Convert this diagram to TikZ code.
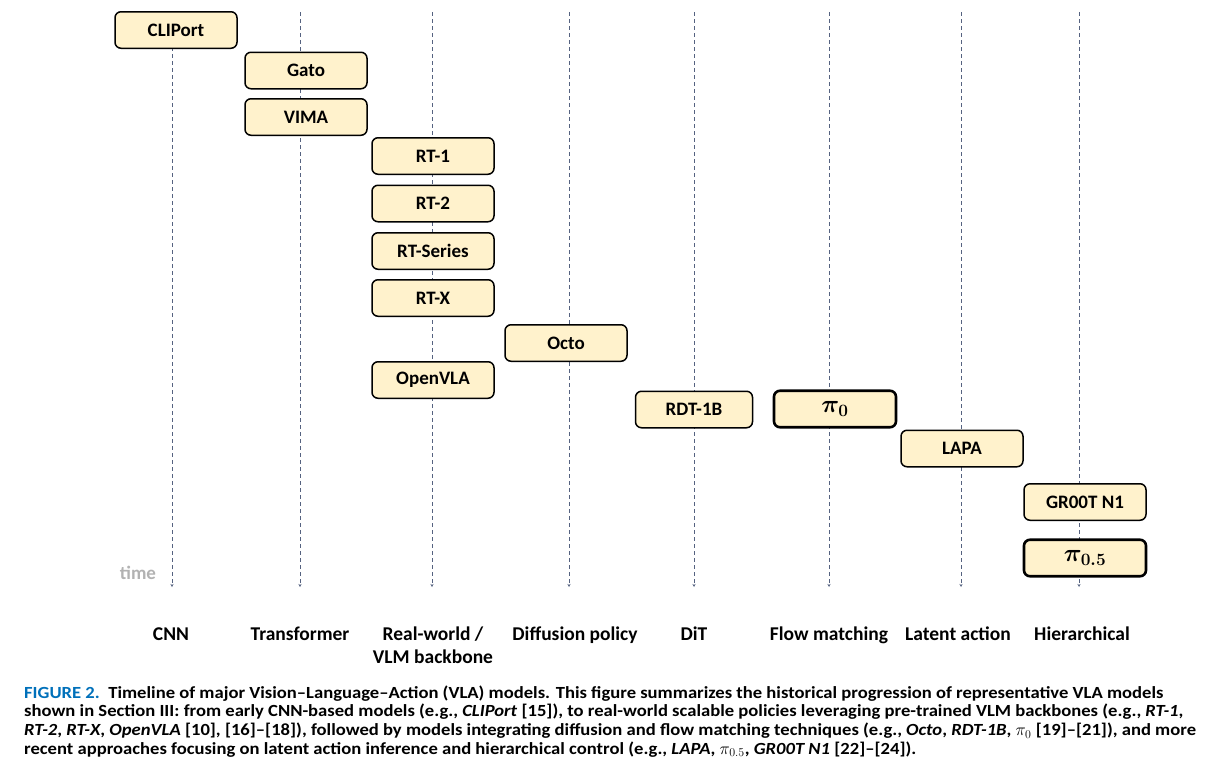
\documentclass[tikz,border=0pt]{standalone}
\usepackage[no-math]{fontspec}
\usepackage{bm}
\setmainfont{Carlito}
\newfontfamily\capfont[FakeStretch=1.095,Ligatures=TeX]{Carlito}
\usetikzlibrary{arrows.meta}
\definecolor{boxfill}{HTML}{FFF2CC}
\definecolor{axisgray}{RGB}{85,98,128}
\definecolor{figblue}{RGB}{0,112,186}
\definecolor{timegray}{RGB}{178,178,178}
\tikzset{
  model/.style={draw=black, fill=boxfill, line width=1.5pt, rounded corners=6pt,
    minimum width=122pt, minimum height=36.5pt, inner sep=0pt,
    font=\fontsize{19}{21}\selectfont\bfseries},
  modelthick/.style={model, line width=2.6pt, font=\fontsize{23}{25}\selectfont\boldmath},
  axis/.style={draw=axisgray, line width=0.9pt, dash pattern=on 4pt off 3pt,
    -{Stealth[length=3pt,width=3pt]}},
  category/.style={font=\fontsize{19.5}{23}\selectfont\bfseries, align=center, anchor=north, inner sep=0pt},
  capline/.style={anchor=base west, inner sep=0pt, font=\capfont\fontsize{17}{19}\selectfont\bfseries}
}
\begin{document}
\begin{tikzpicture}[x=1pt,y=-1pt]
\useasboundingbox (0,0) rectangle (1231,772);
% timeline axes
\foreach \n/\x in {cnn/172, trf/300, rw/432, dif/569, dit/694, flow/829, lat/961, hier/1079}{
  \coordinate (\n top) at (\x,12);
  \coordinate (\n bot) at (\x,587);
  \draw[axis] (\n top) -- (\n bot);
}
% model boxes
\node[model] (cliport) at (176,30) {CLIPort};
\node[model] (gato) at (306,70.5) {Gato};
\node[model] (vima) at (306,117) {VIMA};
\node[model] (rt1) at (433,156) {RT-1};
\node[model] (rt2) at (433,203.5) {RT-2};
\node[model] (rtseries) at (433,251) {RT-Series};
\node[model] (rtx) at (433,298) {RT-X};
\node[model] (octo) at (566,343) {Octo};
\node[model] (openvla) at (433,380) {OpenVLA};
\node[model, minimum width=117pt] (rdt) at (694,409.5) {RDT-1B};
\node[modelthick] (pi0) at (835,409) {$\bm{\pi_{0}}$};
\node[model] (lapa) at (962,448.5) {LAPA};
\node[model] (groot) at (1085,502) {GR00T N1};
\node[modelthick] (pi05) at (1085,558) {$\bm{\pi_{0.5}}$};
% time label
\node[font=\fontsize{19}{21}\selectfont\bfseries, text=timegray] (time) at (138,573) {time};
% category labels
\node[category] (lcnn) at (171,627) {CNN};
\node[category] (ltrf) at (300,627) {Transformer};
\node[category] (lrw) at (433,627) {Real-world /\\VLM backbone};
\node[category] (ldif) at (575,627) {Diffusion policy};
\node[category] (ldit) at (694,627) {DiT};
\node[category] (lflow) at (829,627) {Flow matching};
\node[category] (llat) at (958,627) {Latent action};
\node[category] (lhier) at (1082,627) {Hierarchical};
% caption
\node[capline] (cap1) at (24,698) {\textcolor{figblue}{FIGURE 2.}\ \ Timeline of major Vision–Language–Action (VLA) models. This figure summarizes the historical progression of representative VLA models};
\node[capline] (cap2) at (24,716.7) {shown in Section III: from early CNN-based models (e.g., \textit{CLIPort} [15]), to real-world scalable policies leveraging pre-trained VLM backbones (e.g., \textit{RT-1},};
\node[capline] (cap3) at (24,735.4) {\textit{RT-2}, \textit{RT-X}, \textit{OpenVLA} [10], [16]–[18]), followed by models integrating diffusion and flow matching techniques (e.g., \textit{Octo}, \textit{RDT-1B}, $\pi_0$ [19]–[21]), and more};
\node[capline] (cap4) at (24,754.1) {recent approaches focusing on latent action inference and hierarchical control (e.g., \textit{LAPA}, $\pi_{0.5}$, \textit{GR00T N1} [22]–[24]).};
\end{tikzpicture}
\end{document}
